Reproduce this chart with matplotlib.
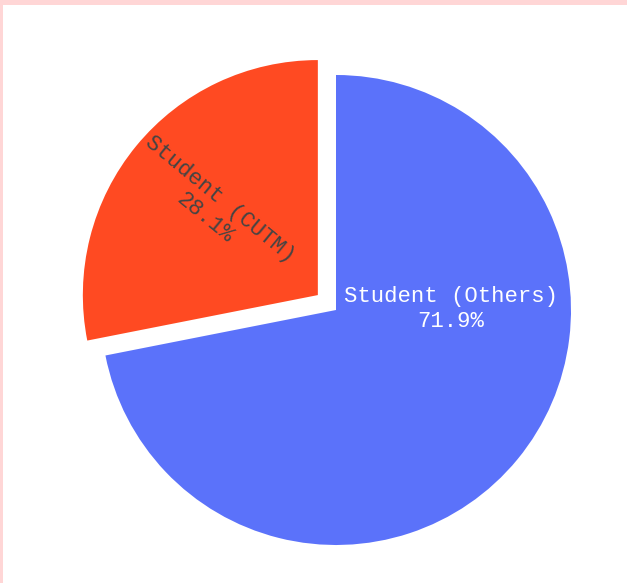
import matplotlib.pyplot as plt
from matplotlib.patches import Rectangle

labels = ['Student (Others)', 'Student (CUTM)']
values = [71.9, 28.1]
pull = [0, 0.1]
colors = ['#5B72FA', '#FF4A22']
text_colors = ['white', '#444444']

W, H = 627, 583
fig = plt.figure(figsize=(W / 100, H / 100), dpi=100, facecolor='#FFD6D6')
# white panel inside pink frame
fig.patches.append(Rectangle((3 / W, 0), 1, 1 - 5 / H, transform=fig.transFigure,
                             facecolor='white', edgecolor='none', zorder=-1))

ax = fig.add_axes([0, 0, 1, 1])
cx, cy, r = 336, 273, 235
# explode in matplotlib is in data units, so scale the pull by the radius
wedges, texts, autotexts = ax.pie(
    values, labels=None, colors=colors, startangle=90, counterclock=False,
    explode=[p * r for p in pull], center=(cx, cy), radius=r, pctdistance=0.58,
    autopct=lambda p: '', wedgeprops=dict(linewidth=0))

# pie resets the limits, so set them afterwards
ax.set_xlim(0, W)
ax.set_ylim(0, H)
ax.set_aspect('equal')
ax.axis('off')

for i, (w, t) in enumerate(zip(wedges, autotexts)):
    t.set_text(f'{labels[i]}\n{values[i]:.1f}%')
    t.set_color(text_colors[i])
    t.set_fontfamily('Liberation Mono')
    t.set_fontsize(16)
    t.set_linespacing(1.2)
    t.set_ha('center')
    t.set_va('center')

# blue label sits horizontally to the right of the centre
autotexts[0].set_position((cx + 115, cy + 1))
# red label rotated along the slice's radius
mid = (wedges[1].theta1 + wedges[1].theta2) / 2
autotexts[1].set_rotation(mid - 180)
autotexts[1].set_rotation_mode('anchor')

fig.savefig('out.png', dpi=100, facecolor=fig.get_facecolor())
